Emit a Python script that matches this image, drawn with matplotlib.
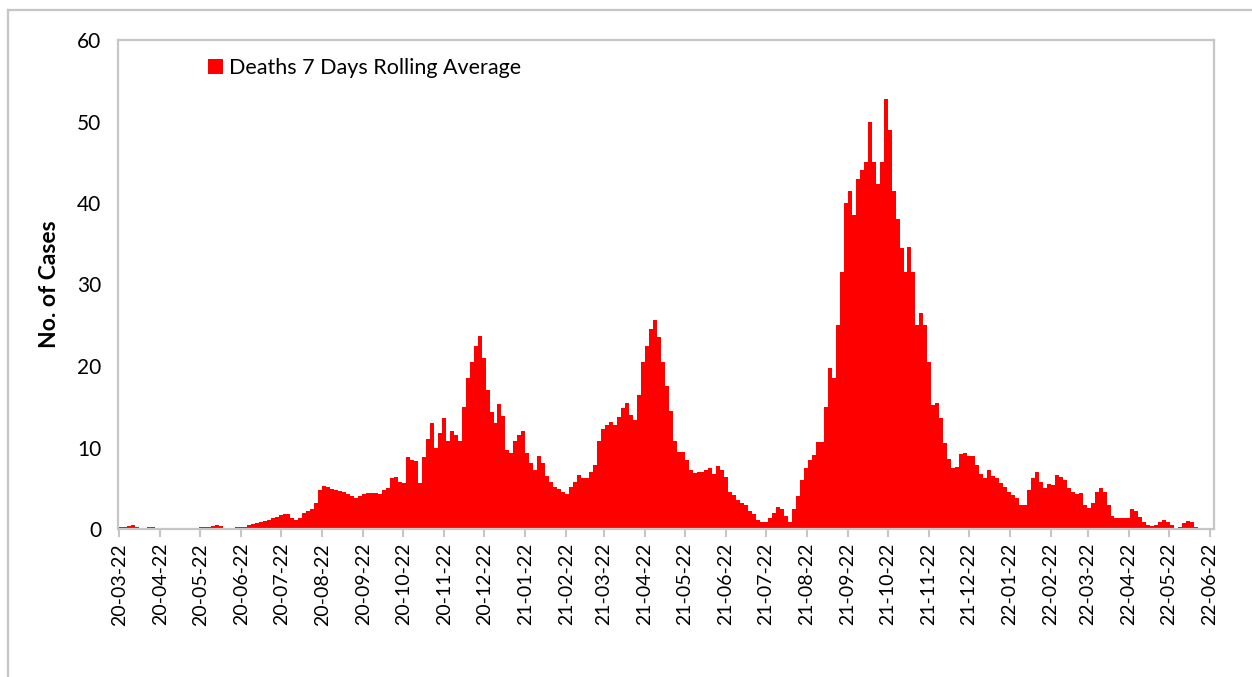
import pandas as pd
import matplotlib
matplotlib.use("Agg")
import matplotlib.pyplot as plt
import matplotlib.dates as mdates
from matplotlib.lines import Line2D

# 7-day rolling average of deaths, one value per 3-day step from 2020-03-22
deaths_2020 = [0.3, 0.3, 0.4, 0.5, 0.2, 0, 0, 0.2, 0.2, 0.1,
               0, 0, 0, 0, 0, 0, 0, 0, 0, 0,
               0.2, 0.2, 0.2, 0.4, 0.5, 0.4, 0.1, 0, 0.1, 0.2,
               0.2, 0.3, 0.5, 0.6, 0.7, 0.9, 1.0, 1.1, 1.3, 1.5,
               1.7, 1.9, 1.8, 1.3, 1.1, 1.4, 2.0, 2.2, 2.5, 3.2,
               4.8, 5.3, 5.2, 4.9, 4.8, 4.7, 4.5, 4.3, 4.1, 3.8,
               4.0, 4.3, 4.4, 4.4, 4.4, 4.3, 4.8, 5.0, 6.2, 6.4,
               5.8, 5.7, 8.8, 8.5, 8.4, 5.7, 8.8, 11.0, 13.0, 10.0,
               11.8, 13.6, 10.8, 12.0, 11.5, 10.8, 15.0, 18.5, 20.5, 22.5,
               23.7, 21.0, 17.0, 14.4, 13.0]
deaths_2021 = [15.3, 13.9, 9.7, 9.3, 10.8, 11.5, 12.0, 9.3, 8.1, 7.2,
               9.0, 8.1, 6.5, 5.8, 5.1, 4.9, 4.6, 4.3, 5.2, 5.8,
               6.6, 6.3, 6.3, 7.0, 7.8, 10.8, 12.3, 12.8, 13.1, 12.8,
               13.8, 14.8, 15.5, 14.0, 13.4, 16.5, 20.5, 22.4, 24.5, 25.6,
               23.5, 20.5, 17.5, 14.5, 10.8, 9.5, 9.4, 8.5, 7.2, 6.9,
               7.0, 7.0, 7.3, 7.5, 6.8, 7.7, 7.3, 6.4, 4.6, 4.2,
               3.5, 3.2, 2.9, 2.2, 1.8, 1.1, 0.8, 0.8, 1.4, 2.0,
               2.7, 2.5, 1.6, 0.9, 2.4, 4.0, 6.0, 7.5, 8.5, 9.1,
               10.7, 10.7, 15.0, 19.8, 18.5, 25.0, 31.5, 40.0, 41.5, 38.5,
               43.0, 44.0, 45.0, 50.0, 45.0, 42.3, 45.0, 52.8, 49.0, 41.5,
               38.0, 34.5, 31.5, 34.6, 31.5, 25.0, 26.5, 25.0, 20.5, 15.2,
               15.4, 13.6, 10.5, 8.6, 7.5, 7.6, 9.2, 9.3, 9.0, 8.9,
               7.8, 6.8]
deaths_2022 = [6.3, 7.2, 6.5, 6.3, 5.7, 5.2, 4.6, 4.2, 3.8, 2.9,
               3.0, 4.8, 6.2, 7.0, 5.8, 5.0, 5.5, 5.4, 6.6, 6.4,
               6.0, 5.0, 4.5, 4.3, 4.4, 3.0, 2.6, 3.2, 4.5, 5.0,
               4.5, 3.0, 1.6, 1.3, 1.3, 1.4, 1.4, 2.4, 2.2, 1.5,
               0.9, 0.5, 0.4, 0.5, 0.9, 1.1, 0.8, 0.5, 0.1, 0.2,
               0.7, 1.0, 0.8, 0.3, 0.1]

values = deaths_2020 + deaths_2021 + deaths_2022
dates = pd.date_range("2020-03-22", periods=len(values), freq="3D")
tick_dates = pd.date_range("2020-03-01", "2022-06-01", freq="MS") + pd.Timedelta(days=21)

plt.rcParams["font.family"] = ["Lato", "DejaVu Sans"]
grey = "#c6c6c6"

fig = plt.figure(figsize=(12.52, 6.77), dpi=100)
ax = fig.add_axes([118 / 1252, 1 - 529 / 677, (1214 - 118) / 1252, (529 - 40) / 677])

ax.bar(dates, values, width=3, align="edge", color="#ff0000", linewidth=0,
       label="Deaths 7 Days Rolling Average")

ax.set_xlim(pd.Timestamp("2020-03-21"), pd.Timestamp("2022-06-25"))
ax.set_ylim(0, 60)
ax.set_yticks(range(0, 61, 10))
ax.set_xticks(tick_dates)
ax.xaxis.set_major_formatter(mdates.DateFormatter("%y-%m-%d"))
ax.tick_params(axis="x", rotation=90, labelsize=14, length=6, width=1.5,
               color=grey, pad=4)
ax.tick_params(axis="y", labelsize=15, length=0, pad=12)
for s in ax.spines.values():
    s.set_color(grey)
    s.set_linewidth(1.6)

ax.set_ylabel("No. of Cases", fontsize=16.5, fontweight="bold", labelpad=12)

ax.legend(loc="upper left", bbox_to_anchor=(0.064, 1.002), frameon=False,
          fontsize=15.5, handlelength=0.7, handleheight=0.7, handletextpad=0.3)

# outer chart border (top and left edges visible)
fig.add_artist(Line2D([8 / 1252, 1], [1 - 10 / 677, 1 - 10 / 677],
                      color=grey, lw=1.6, transform=fig.transFigure))
fig.add_artist(Line2D([8 / 1252, 8 / 1252], [0, 1 - 10 / 677],
                      color=grey, lw=1.6, transform=fig.transFigure))

fig.savefig("out.png", dpi=100)
